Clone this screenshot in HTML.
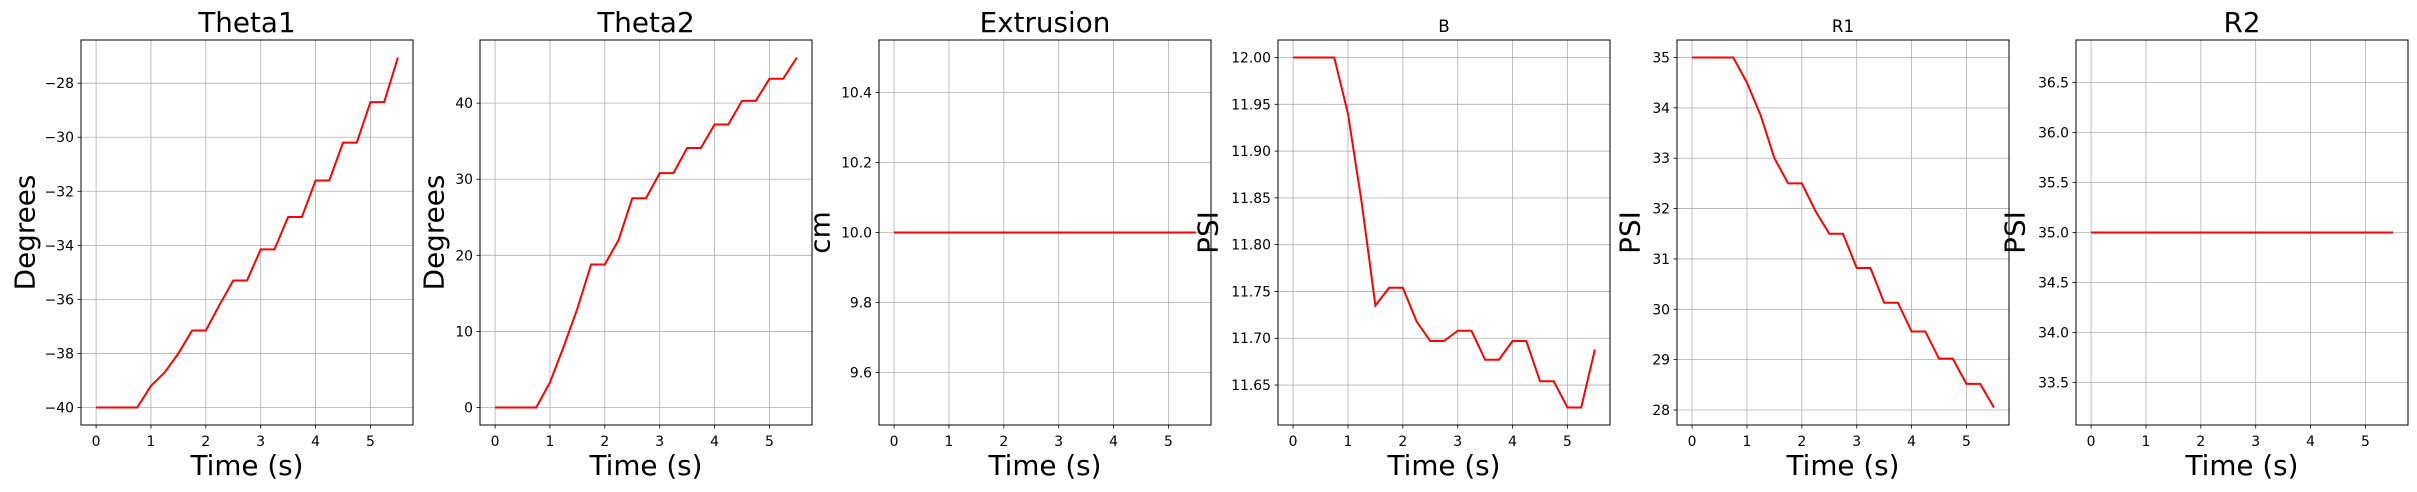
<!DOCTYPE html>
<html><head><meta charset="utf-8"><style>
html,body{margin:0;padding:0;background:#fff;}
svg{display:block;font-family:"DejaVu Sans","Liberation Sans",sans-serif;}
</style></head><body>
<svg id="fig" width="2417" height="492" viewBox="0 0 2417 492" xmlns="http://www.w3.org/2000/svg"></svg>
<script>
const times = [0,0.25,0.5,0.75,1,1.25,1.5,1.75,2,2.25,2.5,2.75,3,3.25,3.5,3.75,4,4.25,4.5,4.75,5,5.25,5.5];
const theta1 = [-40,-40,-40,-40,-39.2,-38.7,-38.0,-37.15,-37.15,-36.2,-35.3,-35.3,-34.15,-34.15,-32.95,-32.95,-31.6,-31.6,-30.2,-30.2,-28.7,-28.7,-27.05];
const theta2 = [0,0,0,0,3.3,8,13,18.8,18.8,22,27.5,27.5,30.8,30.8,34.1,34.1,37.2,37.2,40.3,40.3,43.2,43.2,46];
const extrusion = [10,10,10,10,10,10,10,10,10,10,10,10,10,10,10,10,10,10,10,10,10,10,10];
const bVals = [12,12,12,12,11.94,11.845,11.735,11.754,11.754,11.718,11.697,11.697,11.708,11.708,11.677,11.677,11.697,11.697,11.654,11.654,11.626,11.626,11.688];
const r1Vals = [35,35,35,35,34.5,33.85,33.0,32.5,32.5,31.95,31.5,31.5,30.82,30.82,30.13,30.13,29.56,29.56,29.02,29.02,28.52,28.52,28.05];
const r2Vals = [35,35,35,35,35,35,35,35,35,35,35,35,35,35,35,35,35,35,35,35,35,35,35];
const xTicks = [0,1,2,3,4,5];
const titles = ["Theta1","Theta2","Extrusion","B","R1","R2"];
const yLabels = ["Degrees","Degrees","cm","PSI","PSI","PSI"];
const yTicks1 = [-40,-38,-36,-34,-32,-30,-28];
const yTicks2 = [0,10,20,30,40];
const yTicks3 = [9.6,9.8,10.0,10.2,10.4];
const yTicks4 = [11.65,11.70,11.75,11.80,11.85,11.90,11.95,12.00];
const yTicks5 = [28,29,30,31,32,33,34,35];
const yTicks6 = [33.5,34.0,34.5,35.0,35.5,36.0,36.5];

const NS="http://www.w3.org/2000/svg";
const svg=document.getElementById('fig');
function mk(tag,attrs,parent){const e=document.createElementNS(NS,tag);for(const k in attrs)e.setAttribute(k,attrs[k]);(parent||svg).appendChild(e);return e;}

const series=[theta1,theta2,extrusion,bVals,r1Vals,r2Vals];
const ticksets=[yTicks1,yTicks2,yTicks3,yTicks4,yTicks5,yTicks6];
const decimals=[0,0,1,2,0,1];
const titleSizes=[27.8,27.8,27.8,16.7,16.7,27.8];
const labelX=[25,434,820,1208,1630,2015];
const AW=332,TOP=40,BOT=425;

function limits(v){let mn=Math.min(...v),mx=Math.max(...v);if(mx-mn<1e-9){const d=0.05*Math.abs(mn);mn-=d;mx+=d;}const p=(mx-mn)*0.05;return [mn-p,mx+p];}

for(let i=0;i<6;i++){
  const L=81+399*i;
  const g=mk('g',{});
  
  
  const [y0,y1]=limits(series[i]);
  const xs=t=>L+(t+0.275)/6.05*AW;
  const ys=v=>BOT-(v-y0)/(y1-y0)*(BOT-TOP);
  // grid
  xTicks.forEach(t=>{
    const gl=mk('line',{x1:xs(t),x2:xs(t),y1:TOP,y2:BOT,stroke:'#b0b0b0','stroke-width':0.8},g);
    
    
    mk('line',{x1:xs(t),x2:xs(t),y1:BOT,y2:BOT+3.5,stroke:'#000','stroke-width':0.8},g);
    const tx=mk('text',{x:xs(t),y:BOT+21,'text-anchor':'middle','font-size':13.9,fill:'#000'},g);
    tx.textContent=t;
    
    
  });
  ticksets[i].forEach(v=>{
    const gl=mk('line',{x1:L,x2:L+AW,y1:ys(v),y2:ys(v),stroke:'#b0b0b0','stroke-width':0.8},g);
    
    
    mk('line',{x1:L-3.5,x2:L,y1:ys(v),y2:ys(v),stroke:'#000','stroke-width':0.8},g);
    const tx=mk('text',{x:L-7,y:ys(v)+5,'text-anchor':'end','font-size':13.9,fill:'#000'},g);
    tx.textContent=v<0?'\u2212'+Math.abs(v).toFixed(decimals[i]):v.toFixed(decimals[i]);
    
    
  });
  // line
  const pts=times.map((t,k)=>xs(t).toFixed(2)+','+ys(series[i][k]).toFixed(2)).join(' ');
  const pl=mk('polyline',{points:pts,fill:'none',stroke:'#ff0000','stroke-width':2,'stroke-linejoin':'miter'},g);
  
  
  const fr=mk('rect',{x:L,y:TOP,width:AW,height:BOT-TOP,fill:'none',stroke:'#000','stroke-width':1},g);
  
  
  const ti=mk('text',{x:L+AW/2,y:32,'text-anchor':'middle','font-size':titleSizes[i],fill:'#000'},g);
  ti.textContent=titles[i];
  
  
  const xl=mk('text',{x:L+AW/2,y:475,'text-anchor':'middle','font-size':27.8,fill:'#000'},g);
  xl.textContent='Time (s)';
  
  
  const cy=(TOP+BOT)/2;
  const yl=mk('text',{x:labelX[i],y:cy,'text-anchor':'middle','dominant-baseline':'central','font-size':27.8,fill:'#000',transform:`rotate(-90 ${labelX[i]} ${cy})`},g);
  yl.textContent=yLabels[i];
  
  
}
</script>
</body></html>
